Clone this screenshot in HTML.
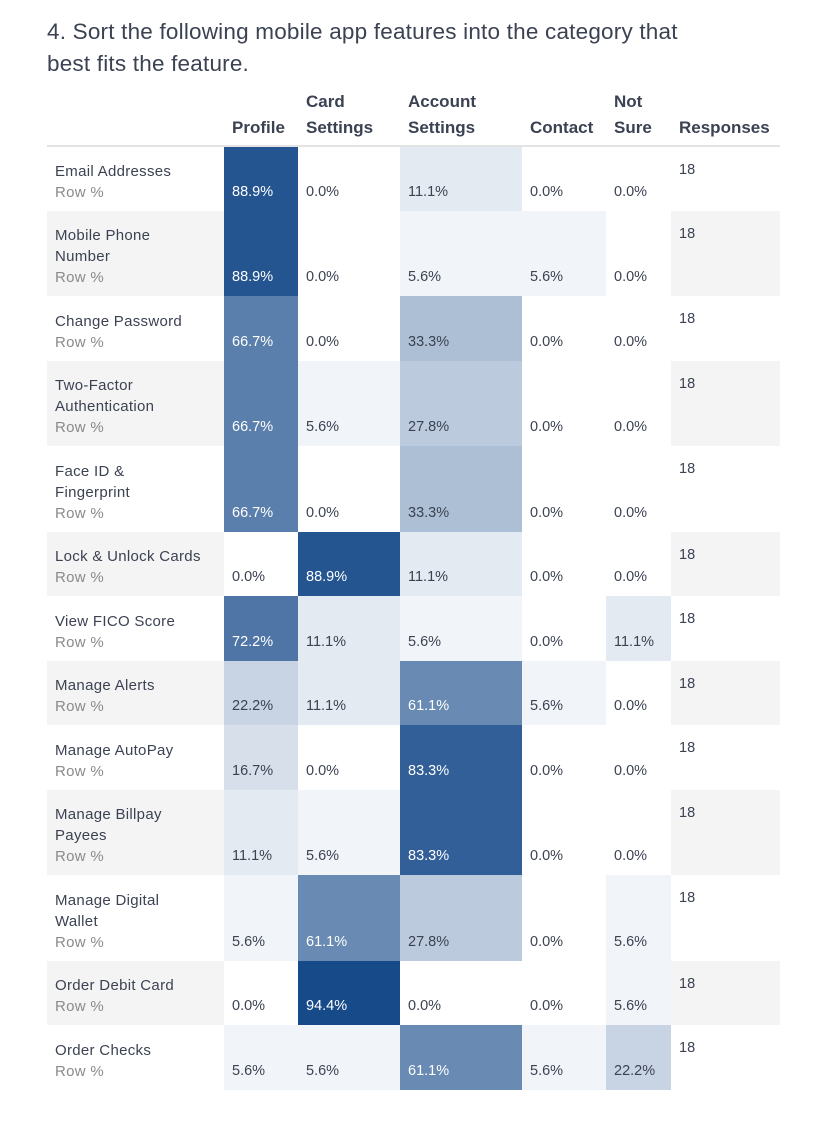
<!DOCTYPE html>
<html><head><meta charset="utf-8"><style>
body{margin:0;background:#fff;width:828px;height:1125px;overflow:hidden;font-family:"Liberation Sans",sans-serif;color:#3b4252}
h1{position:absolute;left:47px;top:16px;margin:0;font-size:22.5px;font-weight:normal;line-height:32px;width:760px;letter-spacing:0.2px}
table{position:absolute;left:47px;top:89px;border-collapse:collapse;table-layout:fixed;width:733px}
th{font-size:17px;font-weight:bold;text-align:left;vertical-align:bottom;line-height:26px;padding:0 0 4px 8px;border-bottom:2px solid #e3e3e3}
td{padding:0 0 0 8px;font-size:14.5px;line-height:21px;vertical-align:bottom;padding-bottom:8px}
td.lab{padding-top:12px;letter-spacing:0.3px;font-size:15px}
td.lab span{color:#8a8a8a;display:block}
td.resp{vertical-align:top;padding-top:13px}
tr.alt td.lab,tr.alt td.resp{background:#f4f4f4}
</style></head><body>
<h1>4. Sort the following mobile app features into the category that<br>best fits the feature.</h1>
<table>
<colgroup><col style="width:177px"><col style="width:74px"><col style="width:102px"><col style="width:122px"><col style="width:84px"><col style="width:65px"><col style="width:109px"></colgroup>
<thead><tr><th></th><th>Profile</th><th>Card<br>Settings</th><th>Account<br>Settings</th><th>Contact</th><th>Not<br>Sure</th><th>Responses</th></tr></thead>
<tbody id="tb"></tbody></table>
<script>
const features=["Email Addresses","Mobile Phone<br>Number","Change Password","Two-Factor<br>Authentication","Face ID &amp;<br>Fingerprint","Lock &amp; Unlock Cards","View FICO Score","Manage Alerts","Manage AutoPay","Manage Billpay<br>Payees","Manage Digital<br>Wallet","Order Debit Card","Order Checks"];
const profile=[88.9,88.9,66.7,66.7,66.7,0,72.2,22.2,16.7,11.1,5.6,0,5.6];
const card=[0,0,0,5.6,0,88.9,11.1,11.1,0,5.6,61.1,94.4,5.6];
const account=[11.1,5.6,33.3,27.8,33.3,11.1,5.6,61.1,83.3,83.3,27.8,0,61.1];
const contact=[0,5.6,0,0,0,0,0,5.6,0,0,0,0,5.6];
const notSure=[0,0,0,0,0,0,11.1,0,0,0,5.6,5.6,22.2];
const responses=[18,18,18,18,18,18,18,18,18,18,18,18,18];
const tb=document.getElementById('tb');
features.forEach((f,i)=>{
  const tr=document.createElement('tr');
  
  
  if(i%2)tr.className='alt';
  tr.style.height=(f.indexOf('<br>')>=0?85.6:64.5)+'px';
  const l=document.createElement('td');l.className='lab';
  
  
  l.innerHTML=f+'<span>Row %</span>';tr.appendChild(l);
  [profile,card,account,contact,notSure].forEach(arr=>{
    const v=arr[i];const td=document.createElement('td');
    
    
    td.textContent=v.toFixed(1)+'%';
    if(v>0){const a=Math.min(1,v/100*1.06);td.style.background='rgba(23,74,137,'+a+')';}
    if(v>50)td.style.color='#fff';
    tr.appendChild(td);
  });
  const r=document.createElement('td');r.className='resp';
  
  
  r.textContent=responses[i];tr.appendChild(r);
  tb.appendChild(tr);
});
</script>
</body></html>
